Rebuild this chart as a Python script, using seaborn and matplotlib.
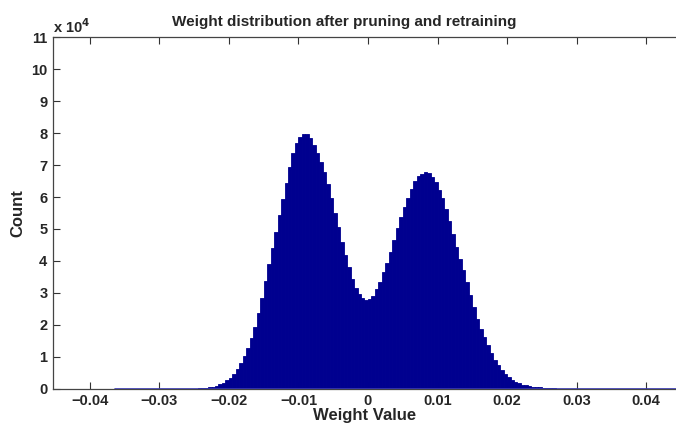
import numpy as np
import pandas as pd
import matplotlib
matplotlib.use("Agg")
import matplotlib.pyplot as plt
import seaborn as sns

# histogram of weights (counts in units of 1e4)
bin_start = -0.0275
bin_width = 0.0005
counts = [
    0.003, 0.004, 0.005, 0.006, 0.008, 0.012, 0.02, 0.03, 0.04, 0.055,
    0.075, 0.10, 0.14, 0.19, 0.27, 0.35, 0.46, 0.61, 0.80, 1.03,
    1.27, 1.58, 1.93, 2.38, 2.85, 3.38, 3.9, 4.4, 4.92, 5.45,
    5.95, 6.45, 6.95, 7.38, 7.68, 7.88, 7.98, 7.98, 7.85, 7.62,
    7.38, 7.1, 6.78, 6.4, 5.97, 5.5, 5.05, 4.6, 4.2, 3.8,
    3.45, 3.15, 2.98, 2.84, 2.79, 2.8, 2.92, 3.12, 3.35, 3.65,
    3.93, 4.28, 4.66, 5.03, 5.38, 5.7, 5.97, 6.25, 6.5, 6.67,
    6.73, 6.77, 6.74, 6.62, 6.47, 6.22, 5.96, 5.62, 5.25, 4.85,
    4.45, 4.07, 3.72, 3.35, 2.95, 2.55, 2.18, 1.87, 1.62, 1.37,
    1.12, 0.9, 0.75, 0.6, 0.48, 0.37, 0.28, 0.21, 0.17, 0.135,
    0.11, 0.09, 0.075, 0.063, 0.05, 0.04, 0.033, 0.025, 0.018, 0.012,
    0.009,
]
count_scale = 1e4
x_ticks = [-0.04, -0.03, -0.02, -0.01, 0, 0.01, 0.02, 0.03, 0.04]
x_tick_labels = ["\u22120.04", "\u22120.03", "\u22120.02", "\u22120.01", "0",
                 "0.01", "0.02", "0.03", "0.04"]
y_tick_labels = [str(i) for i in range(12)]

edges = bin_start + bin_width * np.arange(len(counts) + 1)
df = pd.DataFrame({
    "weight": edges[:-1] + bin_width / 2,
    "count": np.array(counts) * count_scale,
})

sns.set_style("ticks")
plt.rcParams["font.family"] = ["Liberation Sans", "DejaVu Sans"]
plt.rcParams["font.weight"] = "bold"

fig = plt.figure(figsize=(6.76, 4.26), dpi=100)
ax = fig.add_axes([0.0784, 0.087, 0.9216, 0.826])

bar_color = "#00008f"
sns.histplot(data=df, x="weight", weights="count", bins=list(edges),
             color=bar_color, alpha=1, edgecolor=bar_color, linewidth=0.6,
             ax=ax)
# thin blue baseline like the empty bins in the original
ax.axhline(0, xmin=0.1, xmax=1.0, color="#3a3ab0", linewidth=1.2, zorder=3)

ax.set_xlim(-0.0453, 0.0443)
ax.set_ylim(0, 11 * count_scale)
ax.set_xticks(x_ticks)
ax.set_xticklabels(x_tick_labels, fontsize=10.5, fontweight="bold")
ax.set_yticks(np.arange(12) * count_scale)
ax.set_yticklabels(y_tick_labels, fontsize=10.5, fontweight="bold")
ax.tick_params(direction="in", length=5, width=0.8, color="#333333",
               top=True, right=False, pad=4)

for side in ["left", "bottom", "top"]:
    ax.spines[side].set_visible(True)
    ax.spines[side].set_color("#444444")
    ax.spines[side].set_linewidth(0.9)
ax.spines["right"].set_visible(False)

ax.set_title("Weight distribution after pruning and retraining",
             fontsize=11, fontweight="bold", pad=8, x=0.467)
ax.set_xlabel("Weight Value", fontsize=12, fontweight="bold", labelpad=0)
ax.set_ylabel("Count", fontsize=12, fontweight="bold", labelpad=4)
ax.text(0.0, 1.004, r"x 10$^{4}$", transform=ax.transAxes,
        fontsize=10.5, fontweight="bold", ha="left", va="bottom")

fig.savefig("out.png", dpi=100)
